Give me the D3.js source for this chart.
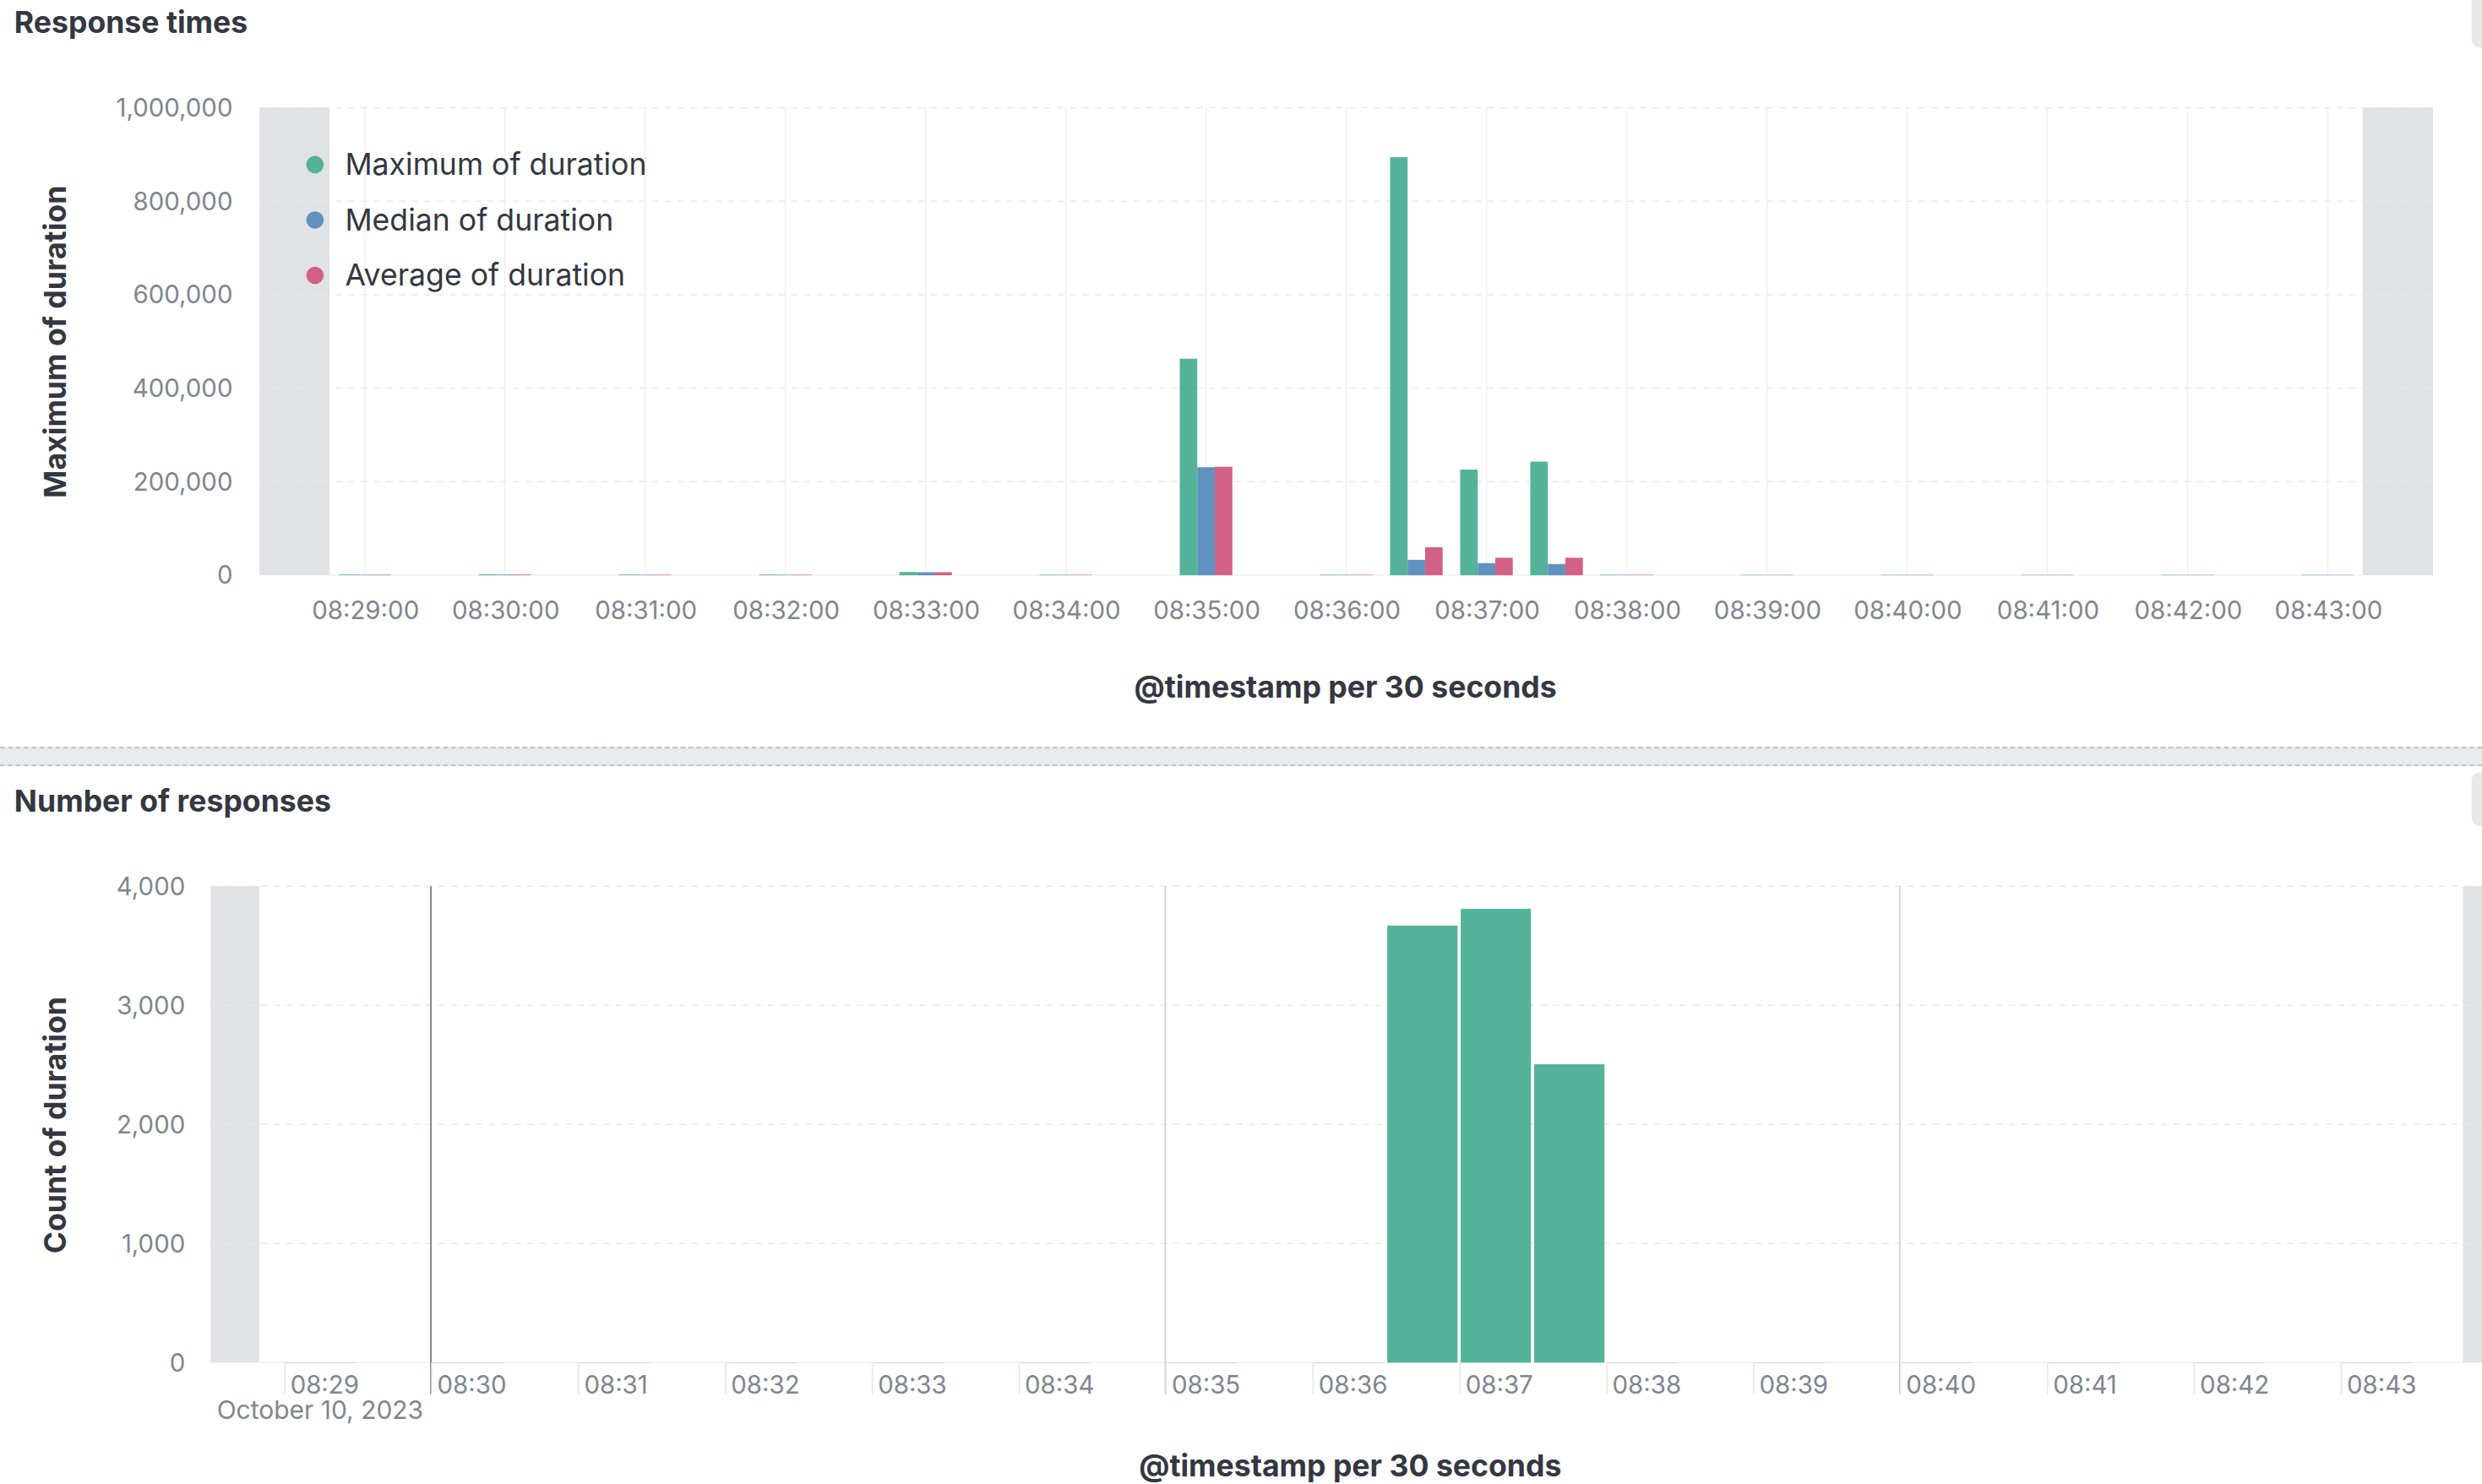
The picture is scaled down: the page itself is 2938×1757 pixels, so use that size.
<!DOCTYPE html>
<html lang="en">
<head>
<meta charset="UTF-8">
<title>Response times</title>
<style>
    html, body { margin: 0; padding: 0; background: #fff; overflow: hidden; }
    svg { display: block; }
    text { font-family: Inter, "Noto Sans", sans-serif; }
</style>
</head>
<body>
<script src="https://d3js.org/d3.v7.min.js"></script>
<script>
    // --- data ---
    const seriesNames = ["Maximum of duration", "Median of duration", "Average of duration"];
    const seriesColors = ["#54b399", "#6092c0", "#d36086"];

    const durationTimes = ["08:29:00", "08:30:00", "08:31:00", "08:32:00", "08:33:00", "08:34:00", "08:35:00",
        "08:36:00", "08:36:30", "08:37:00", "08:37:30", "08:38:00", "08:39:00", "08:40:00", "08:41:00",
        "08:42:00", "08:43:00"];
    const maxDuration = [1500, 2000, 1500, 1500, 7000, 1200, 463000, 1200, 894000, 226000, 243000, 1200, 900, 900, 900, 900, 900];
    const medianDuration = [1200, 1500, 1200, 1200, 6500, 1000, 231000, 1000, 33000, 26000, 24000, 1000, 800, 800, 800, 800, 800];
    const avgDuration = [1200, 1500, 1200, 1200, 6500, 1000, 232000, 1000, 60000, 37500, 37500, 1000, 800, 800, 800, 800, 800];

    const countTimes = ["08:29:00", "08:30:00", "08:31:00", "08:32:00", "08:33:00", "08:34:00", "08:35:00",
        "08:36:00", "08:36:30", "08:37:00", "08:37:30", "08:38:00", "08:39:00", "08:40:00", "08:41:00",
        "08:42:00", "08:43:00"];
    const countValues = [2, 2, 2, 2, 2, 2, 2, 2, 3670, 3810, 2505, 2, 2, 2, 2, 2, 2];

    const durationTicks = [0, 200000, 400000, 600000, 800000, 1000000];
    const countTicks = [0, 1000, 2000, 3000, 4000];
    const minuteTicks = ["08:29:00", "08:30:00", "08:31:00", "08:32:00", "08:33:00", "08:34:00", "08:35:00",
        "08:36:00", "08:37:00", "08:38:00", "08:39:00", "08:40:00", "08:41:00", "08:42:00", "08:43:00"];
    const majorTicks = ["08:30:00", "08:35:00", "08:40:00"];

    const topDomain = ["08:28:15", "08:43:45"];
    const topRange = ["08:28:45", "08:43:15"];
    const bottomDomain = ["08:28:30", "08:44:00"];
    const bottomRange = ["08:28:50", "08:43:50"];
    const bucketSeconds = 30;

    // --- canvas: draw in 1568-wide units, scaled to the window ---
    const w = 2938, h = 1757;
    const VW = 1568, VH = VW * h / w;

    const parse = t => d3.timeParse("%Y-%m-%d %H:%M:%S")("2023-10-10 " + t);
    const addSec = (d, s) => new Date(d.getTime() + s * 1000);

    const svg = d3.select("body").append("svg")
        .attr("width", w)
        .attr("height", h)
        .attr("viewBox", "0 0 " + VW + " " + VH);

    const dark = "#343741", tickCol = "#80858f", gridCol = "#e6e9ed", outCol = "#e0e2e5";
    const titleSize = "19px", tickSize = "15.7px";

    // panel separator and right edge bits
    svg.append("rect").attr("x", 0).attr("y", 472).attr("width", VW).attr("height", 12).attr("fill", "#e9ebee");
    [472.4, 483.6].forEach(yy => svg.append("line")
        .attr("x1", 0).attr("x2", VW).attr("y1", yy).attr("y2", yy)
        .attr("stroke", "#a3aab5").attr("stroke-width", 0.7).attr("stroke-dasharray", "3,2"));
    svg.append("rect").attr("x", 1561.5).attr("y", -10).attr("width", 14).attr("height", 40).attr("rx", 5).attr("fill", "#e6e8eb");
    svg.append("rect").attr("x", 1561.5).attr("y", 488).attr("width", 14).attr("height", 34).attr("rx", 5).attr("fill", "#e6e8eb");

    // panel titles
    svg.append("text").attr("x", 9).attr("y", 14).attr("dy", "0.35em")
        .style("font-size", titleSize).style("font-weight", 700).attr("fill", dark).text("Response times");
    svg.append("text").attr("x", 9).attr("y", 506).attr("dy", "0.35em")
        .style("font-size", titleSize).style("font-weight", 700).attr("fill", dark).text("Number of responses");

    // ================= top chart =================
    const x1 = d3.scaleTime().domain(topDomain.map(parse)).range([164, 1537]);
    const y1 = d3.scaleLinear().domain([0, 1000000]).range([363.5, 68]);
    const g1 = svg.append("g");

    // out of range shading
    [[topDomain[0], topRange[0]], [topRange[1], topDomain[1]]].forEach(p => {
        g1.append("rect")
            .attr("x", x1(parse(p[0]))).attr("width", x1(parse(p[1])) - x1(parse(p[0])))
            .attr("y", y1(1000000)).attr("height", y1(0) - y1(1000000))
            .attr("fill", outCol);
    });

    g1.selectAll(".vgrid").data(minuteTicks).enter().append("line")
        .attr("x1", d => x1(parse(d))).attr("x2", d => x1(parse(d)))
        .attr("y1", y1(1000000)).attr("y2", y1(0))
        .attr("stroke", "#eef0f3").attr("stroke-width", 0.8);
    g1.selectAll(".hgrid").data(durationTicks.slice(1)).enter().append("line")
        .attr("x1", 164).attr("x2", 1537)
        .attr("y1", d => y1(d)).attr("y2", d => y1(d))
        .attr("stroke", gridCol).attr("stroke-width", 0.8).attr("stroke-dasharray", "4,4");
    g1.append("line").attr("x1", 208).attr("x2", 1493).attr("y1", y1(0)).attr("y2", y1(0))
        .attr("stroke", "#eef0f3").attr("stroke-width", 0.8);

    const bw1 = x1(addSec(parse("08:29:00"), bucketSeconds)) - x1(parse("08:29:00"));
    const inner = d3.scaleBand().domain(seriesNames).range([-bw1 * 0.375, bw1 * 0.375]);
    const seriesValues = [maxDuration, medianDuration, avgDuration];

    seriesNames.forEach((name, si) => {
        g1.selectAll(".bar" + si)
            .data(durationTimes.map((t, i) => ({t: parse(t), v: seriesValues[si][i]})))
            .enter().append("rect")
            .attr("x", d => x1(d.t) + inner(name))
            .attr("width", inner.bandwidth())
            .attr("y", d => y1(d.v))
            .attr("height", d => y1(0) - y1(d.v))
            .attr("fill", seriesColors[si]);
    });

    const xAxis1 = g1.append("g").attr("transform", "translate(0," + y1(0) + ")")
        .call(d3.axisBottom(x1).tickValues(minuteTicks.map(parse))
            .tickFormat(d3.timeFormat("%H:%M:%S")).tickSize(0).tickPadding(16.5));
    xAxis1.select(".domain").remove();
    xAxis1.selectAll("text").style("font-size", tickSize).style("font-family", "Inter").attr("fill", tickCol);

    const yAxis1 = g1.append("g").attr("transform", "translate(164,0)")
        .call(d3.axisLeft(y1).tickValues(durationTicks).tickFormat(d3.format(",")).tickSize(0).tickPadding(17));
    yAxis1.select(".domain").remove();
    yAxis1.selectAll("text").style("font-size", tickSize).style("font-family", "Inter").attr("fill", tickCol);

    g1.append("text").attr("x", 850).attr("y", 434).attr("dy", "0.35em").attr("text-anchor", "middle")
        .style("font-size", titleSize).style("font-weight", 700).attr("fill", dark).text("@timestamp per 30 seconds");
    g1.append("text").attr("transform", "translate(35,216) rotate(-90)").attr("dy", "0.35em").attr("text-anchor", "middle")
        .style("font-size", titleSize).style("font-weight", 700).attr("fill", dark).text("Maximum of duration");

    // legend
    const legend = g1.selectAll(".legend").data(seriesNames).enter().append("g")
        .attr("transform", (d, i) => "translate(199," + (104 + i * 35) + ")");
    legend.append("circle").attr("r", 5.5).attr("fill", (d, i) => seriesColors[i]);
    legend.append("text").attr("x", 19).attr("dy", "0.35em")
        .style("font-size", "19px").attr("fill", dark).text(d => d);

    // ================= bottom chart =================
    const x2 = d3.scaleTime().domain(bottomDomain.map(parse)).range([133, 133 + 15.5 * 92.8]);
    const y2 = d3.scaleLinear().domain([0, 4000]).range([861, 560]);
    const g2 = svg.append("g");

    [[bottomDomain[0], bottomRange[0]], [bottomRange[1], bottomDomain[1]]].forEach(p => {
        g2.append("rect")
            .attr("x", x2(parse(p[0]))).attr("width", x2(parse(p[1])) - x2(parse(p[0])))
            .attr("y", y2(4000)).attr("height", y2(0) - y2(4000))
            .attr("fill", outCol);
    });

    g2.selectAll(".hgrid").data(countTicks.slice(1)).enter().append("line")
        .attr("x1", 133).attr("x2", VW)
        .attr("y1", d => y2(d)).attr("y2", d => y2(d))
        .attr("stroke", gridCol).attr("stroke-width", 0.8).attr("stroke-dasharray", "4,4");
    g2.append("line").attr("x1", x2(parse(bottomRange[0]))).attr("x2", x2(parse(bottomRange[1])))
        .attr("y1", y2(0)).attr("y2", y2(0))
        .attr("stroke", "#eef0f3").attr("stroke-width", 0.8);

    const bw2 = x2(addSec(parse("08:29:00"), bucketSeconds)) - x2(parse("08:29:00"));
    g2.selectAll(".count").data(countTimes.map((t, i) => ({t: parse(t), v: countValues[i]})))
        .enter().append("rect")
        .attr("x", d => x2(d.t) + 1)
        .attr("width", bw2 - 2)
        .attr("y", d => y2(d.v))
        .attr("height", d => y2(0) - y2(d.v))
        .attr("fill", seriesColors[0]);

    // coarse time layer lines
    g2.selectAll(".major").data(majorTicks).enter().append("line")
        .attr("x1", d => x2(parse(d))).attr("x2", d => x2(parse(d)))
        .attr("y1", y2(4000)).attr("y2", 881)
        .attr("stroke", (d, i) => i === 0 ? "#6f7581" : "#ccd0d6")
        .attr("stroke-width", 0.9);

    const xAxis2 = g2.append("g").attr("transform", "translate(0," + y2(0) + ")")
        .call(d3.axisBottom(x2).tickValues(minuteTicks.map(parse))
            .tickFormat(d3.timeFormat("%H:%M")).tickSize(20));
    xAxis2.select(".domain").remove();
    xAxis2.selectAll("line").attr("stroke", "#e3e6ea").attr("stroke-width", 0.8);
    xAxis2.selectAll("text").attr("x", 3.5).attr("y", 14).attr("dy", "0.35em").attr("text-anchor", "start")
        .style("font-size", tickSize).style("font-family", "Inter").attr("fill", tickCol);

    g2.append("text").attr("x", x2(parse(bottomDomain[0])) + 4).attr("y", 891).attr("dy", "0.35em")
        .style("font-size", "16px").attr("fill", tickCol)
        .text(d3.timeFormat("%B %-d, %Y")(parse(bottomDomain[0])));

    const yAxis2 = g2.append("g").attr("transform", "translate(133,0)")
        .call(d3.axisLeft(y2).tickValues(countTicks).tickFormat(d3.format(",")).tickSize(0).tickPadding(16));
    yAxis2.select(".domain").remove();
    yAxis2.selectAll("text").style("font-size", tickSize).style("font-family", "Inter").attr("fill", tickCol);

    g2.append("text").attr("x", 853).attr("y", 926).attr("dy", "0.35em").attr("text-anchor", "middle")
        .style("font-size", titleSize).style("font-weight", 700).attr("fill", dark).text("@timestamp per 30 seconds");
    g2.append("text").attr("transform", "translate(35,711) rotate(-90)").attr("dy", "0.35em").attr("text-anchor", "middle")
        .style("font-size", titleSize).style("font-weight", 700).attr("fill", dark).text("Count of duration");
</script>
</body>
</html>
